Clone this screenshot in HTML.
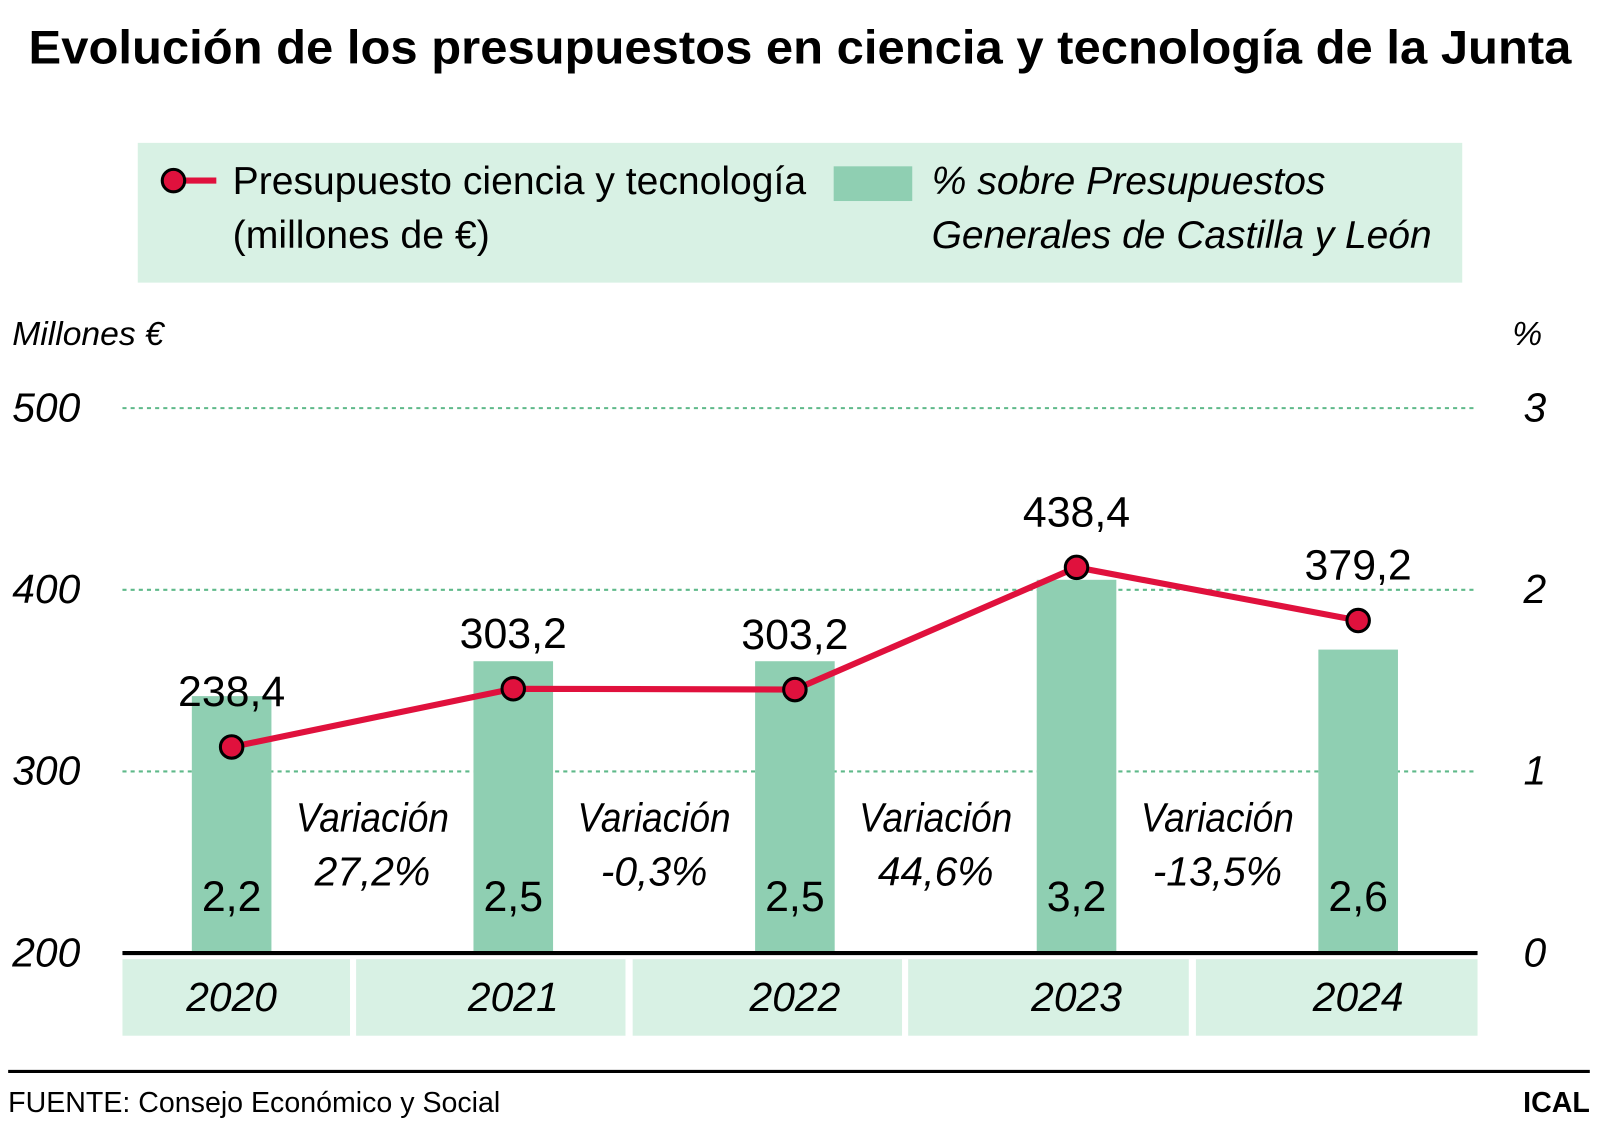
<!DOCTYPE html>
<html><head><meta charset="utf-8"><style>body{margin:0;background:#fff}svg{display:block}text{font-family:"Liberation Sans Narrow","Liberation Sans",sans-serif}</style></head>
<body>
<svg id="c" width="1600" height="1125" viewBox="0 0 1568 1102.5" xmlns="http://www.w3.org/2000/svg">
<text x="28" y="62" font-size="46" font-weight="bold" textLength="1512" lengthAdjust="spacingAndGlyphs" style="font-family:'Liberation Sans',sans-serif">Evolución de los presupuestos en ciencia y tecnología de la Junta</text>
<g>
<rect x="135" y="140" width="1298" height="137" fill="#d8f1e4"/>
<line x1="170" y1="177" x2="212" y2="177" stroke="#e0113d" stroke-width="6"/>
<circle cx="170" cy="177" r="11" fill="#e0113d" stroke="#000" stroke-width="3"/>
<text x="228" y="190" font-size="38" textLength="562" lengthAdjust="spacingAndGlyphs">Presupuesto ciencia y tecnología</text>
<text x="228" y="243" font-size="38" textLength="252" lengthAdjust="spacingAndGlyphs">(millones de €)</text>
<rect x="817" y="163" width="77" height="34" fill="#8fcfb2"/>
<text x="913" y="190" font-size="38" font-style="italic" textLength="386" lengthAdjust="spacingAndGlyphs">% sobre Presupuestos</text>
<text x="913" y="243" font-size="38" font-style="italic" textLength="490" lengthAdjust="spacingAndGlyphs">Generales de Castilla y León</text>
</g>
<text x="12" y="338" font-size="33" font-style="italic">Millones €</text>
<text x="1482" y="338" font-size="33" font-style="italic">%</text>
<g id="plot"></g>
<line x1="8" y1="1050" x2="1558" y2="1050" stroke="#000" stroke-width="3"/>
<text x="8" y="1090" font-size="28" style="font-family:'Liberation Sans',sans-serif">FUENTE: Consejo Económico y Social</text>
<text x="1558" y="1090" font-size="28" font-weight="bold" text-anchor="end" style="font-family:'Liberation Sans',sans-serif">ICAL</text>
</svg>
<script>
const years=["2020","2021","2022","2023","2024"];
const budget=[238.4,303.2,302.3,438.4,379.2];
const budgetLabels=["238,4","303,2","303,2","438,4","379,2"];
const pct=[2.2,2.5,2.5,3.2,2.6];
const pctLabels=["2,2","2,5","2,5","3,2","2,6"];
const variations=["27,2%","-0,3%","44,6%","-13,5%"];
const leftTicks=[200,300,400,500];
const rightTicks=[0,1,2,3];
const NS="http://www.w3.org/2000/svg";
const g=document.getElementById('plot');
function mk(t,a,txt){const e=document.createElementNS(NS,t);for(const k in a)e.setAttribute(k,a[k]);if(txt!=null)e.textContent=txt;g.appendChild(e);return e;}
const xC=i=>227+i*276;
const yL=v=>934-(v-200)*1.78;
const yR=v=>934-v*178;
const yLine=v=>941.8-0.88*v;
const yBar=v=>933-114*v;
leftTicks.forEach((t,i)=>{
 if(t>200){const l=mk('line',{x1:120,x2:1448,y1:yL(t),y2:yL(t),stroke:'#5fb98a','stroke-width':2,'stroke-dasharray':'4 4'});
 }
 const e=mk('text',{x:12,y:yL(t)+13,'font-size':40,'font-style':'italic'},t);
 
});
rightTicks.forEach(t=>{const e=mk('text',{x:1493,y:yR(t)+13,'font-size':40,'font-style':'italic'},t);
 });
const boxes=[[120,343],[349,613],[620,884],[890,1165],[1172,1448]];
years.forEach((y,i)=>{
 const r=mk('rect',{x:boxes[i][0],y:940,width:boxes[i][1]-boxes[i][0],height:75,fill:'#d8f1e4'});
 
 const t=mk('text',{x:xC(i),y:991,'font-size':40,'font-style':'italic','text-anchor':'middle'},y);
 
});
pct.forEach((v,i)=>{
 const b=mk('rect',{x:xC(i)-39,y:yBar(v),width:78,height:933-yBar(v),fill:'#8fcfb2'});
 
 const t=mk('text',{x:xC(i),y:893,'font-size':42,'text-anchor':'middle'},pctLabels[i]);
 
});
const ax=mk('line',{x1:120,x2:1448,y1:934,y2:934,stroke:'#000','stroke-width':4});

variations.forEach((v,i)=>{
 const x=(xC(i)+xC(i+1))/2;
 const a=mk('text',{x:x,y:815,'font-size':40,'font-style':'italic','text-anchor':'middle',textLength:150,lengthAdjust:'spacingAndGlyphs'},'Variación');
 
 const b=mk('text',{x:x,y:868,'font-size':40,'font-style':'italic','text-anchor':'middle'},v);
 
});
const pl=mk('polyline',{points:budget.map((v,i)=>xC(i)+','+yLine(v)).join(' '),fill:'none',stroke:'#e0113d','stroke-width':6});

budget.forEach((v,i)=>{
 const c=mk('circle',{cx:xC(i),cy:yLine(v),r:11,fill:'#e0113d',stroke:'#000','stroke-width':3});
 
 const t=mk('text',{x:xC(i),y:yLine(v)-40,'font-size':42,'text-anchor':'middle'},budgetLabels[i]);
 
});
</script>
</body></html>
